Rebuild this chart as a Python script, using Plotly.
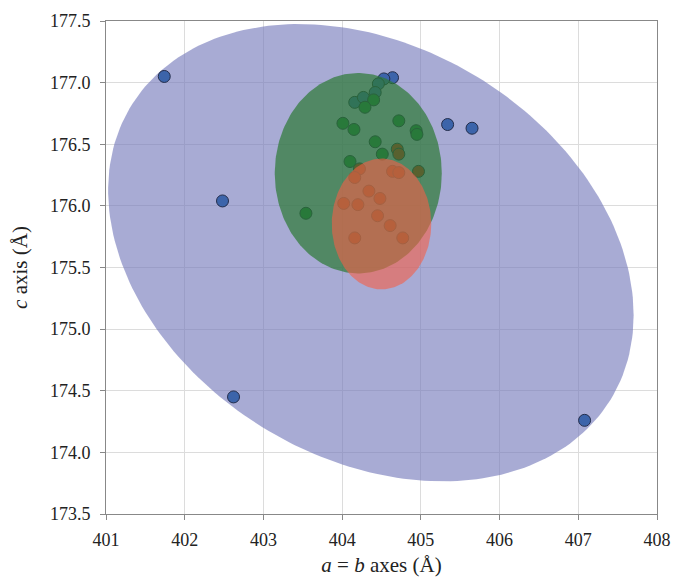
import numpy as np
import plotly.graph_objects as go

blue_x = [401.74, 402.48, 402.62, 407.08, 405.34, 405.65, 404.64, 404.53, 404.46, 404.42, 404.16, 404.27]
blue_y = [177.05, 176.04, 174.45, 174.26, 176.66, 176.63, 177.04, 177.03, 176.99, 176.92, 176.84, 176.88]
green_x = [404.40, 404.29, 404.01, 404.15, 404.72, 404.94, 404.95, 404.42, 404.51, 404.10, 403.54]
green_y = [176.86, 176.80, 176.67, 176.62, 176.69, 176.61, 176.58, 176.52, 176.42, 176.36, 175.94]
red_x = [404.70, 404.72, 404.97, 404.22, 404.16, 404.64, 404.72, 404.34, 404.48, 404.02, 404.20, 404.45, 404.61, 404.16, 404.77]
red_y = [176.46, 176.42, 176.28, 176.30, 176.23, 176.28, 176.27, 176.12, 176.06, 176.02, 176.01, 175.92, 175.84, 175.74, 175.74]

# confidence ellipses: centre x, centre y, half-width (x), half-height (y), x-y correlation
blue_ell = [404.365, 175.62, 3.338, 1.855, -0.273]
green_ell = [404.205, 176.265, 1.061, 0.813, 0.0]
red_ell = [404.50, 175.853, 0.632, 0.531, 0.0]

x_ticks = [401, 402, 403, 404, 405, 406, 407, 408]
y_ticks = [173.5, 174.0, 174.5, 175.0, 175.5, 176.0, 176.5, 177.0, 177.5]


def ellipse(p, n=240):
    cx, cy, w, h, r = p
    t = np.linspace(0, 2 * np.pi, n)
    return cx + w * np.cos(t), cy + h * (r * np.cos(t) + np.sqrt(1 - r * r) * np.sin(t))


fig = go.Figure()
ex, ey = ellipse(blue_ell)
fig.add_trace(go.Scatter(x=ex, y=ey, mode="lines", fill="toself", line=dict(width=0),
                         fillcolor="rgba(115,120,185,0.62)", hoverinfo="skip"))
mk = dict(size=12, line=dict(color="rgb(35,45,75)", width=1))
fig.add_trace(go.Scatter(x=blue_x, y=blue_y, mode="markers", marker=dict(color="rgb(60,100,170)", **mk)))
fig.add_trace(go.Scatter(x=green_x, y=green_y, mode="markers", marker=dict(color="rgb(30,120,70)", **mk)))
fig.add_trace(go.Scatter(x=red_x, y=red_y, mode="markers", marker=dict(color="rgb(190,40,35)", **mk)))
gx, gy = ellipse(green_ell)
fig.add_trace(go.Scatter(x=gx, y=gy, mode="lines", fill="toself", line=dict(width=0),
                         fillcolor="rgba(44,121,53,0.7)", hoverinfo="skip"))
rx, ry = ellipse(red_ell)
fig.add_trace(go.Scatter(x=rx, y=ry, mode="lines", fill="toself", line=dict(width=0),
                         fillcolor="rgba(245,95,70,0.6)", hoverinfo="skip"))

font = "Liberation Serif"
axis_common = dict(showline=True, linecolor="#888888", linewidth=1, mirror=True,
                   ticks="outside", ticklen=5, tickcolor="#888888", automargin=False,
                   showgrid=True, gridcolor="#dcdcdc", gridwidth=1, zeroline=False,
                   tickfont=dict(family=font, size=18, color="#222222"))
fig.update_layout(
    width=673, height=577, showlegend=False,
    font=dict(family=font, size=18, color="#222222"),
    margin=dict(l=106, r=16, t=21, b=63),
    paper_bgcolor="white", plot_bgcolor="white",
    xaxis=dict(range=[401, 408], tickvals=x_ticks, ticktext=[str(v) for v in x_ticks],
               ticklabelstandoff=4,
               title=dict(text="<i>a</i> = <i>b</i> axes (Å)", font=dict(family=font, size=21, color="#222222"), standoff=10),
               **axis_common),
    yaxis=dict(range=[173.5, 177.5], tickvals=y_ticks, ticktext=[f"{v:.1f}" for v in y_ticks],
               ticklabelstandoff=6,
               title=dict(text="<i>c</i> axis (Å)", font=dict(family=font, size=21, color="#222222"), standoff=16),
               **axis_common),
)
fig.write_html("out.html", config={"displayModeBar": False},
               post_script="document.body.style.margin='0';document.body.style.overflow='hidden';")
